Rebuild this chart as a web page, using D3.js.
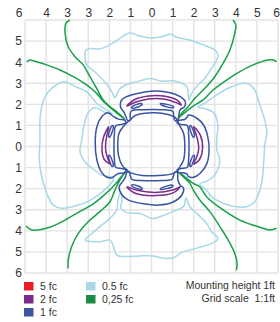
<!DOCTYPE html>
<html>
<head>
<meta charset="utf-8">
<script src="https://cdn.jsdelivr.net/npm/d3@7"></script>
<style>
  body { margin: 0; background: #fff; }
  svg text { font-family: "Liberation Sans", Arial, sans-serif; fill: #333; }
</style>
</head>
<body>
<svg id="chart"></svg>
<script>
// grid positions in feet (fixture at 0,0)
const gridTicks = [-6, -5, -4, -3, -2, -1, 0, 1, 2, 3, 4, 5, 6];
const topLabels = ["6", "4", "3", "3", "2", "1", "0", "1", "2", "3", "4", "5", "6"];
const leftTicks = [-5, -4, -3, -2, -1, 0, 1, 2, 3, 4, 5, 6];
const leftLabels = ["5", "4", "3", "2", "1", "0", "1", "2", "3", "4", "5", "6"];

// 0.5 fc isolines (four lobes)
const halfTop = [[-1.73,-2.30],[-1.88,-2.59],[-2.21,-3.06],[-2.68,-3.53],[-3.06,-3.87],[-3.16,-4.34],[-3.11,-4.58],[-2.92,-4.65],[-2.45,-4.63],[-1.97,-4.82],[-1.50,-5.13],[-1.10,-5.37],[-0.94,-5.37],[-0.55,-5.24],[-0.08,-5.15],[0.40,-5.19],[0.95,-5.32],[1.19,-5.18],[1.82,-5.05],[2.45,-4.82],[3.00,-4.58],[3.16,-4.34],[3.09,-4.10],[2.85,-3.71],[2.53,-3.24],[2.14,-2.84],[1.90,-2.52],[1.77,-2.21],[1.74,-2.50],[1.70,-2.80],[1.45,-3.00],[1.00,-3.12],[0.49,-3.10],[-0.08,-3.22],[-0.60,-3.10],[-1.00,-3.00],[-1.30,-2.88],[-1.52,-2.72],[-1.64,-2.50]];
const halfRight = [[2.20,-1.86],[2.60,-2.10],[3.09,-2.45],[3.72,-2.80],[4.51,-3.00],[4.90,-2.68],[5.06,-2.21],[5.22,-1.73],[5.37,-1.26],[5.47,-0.64],[5.37,-0.07],[5.33,0.64],[5.22,1.75],[4.90,2.62],[4.51,2.86],[4.03,2.86],[3.40,2.69],[2.85,2.38],[2.61,2.06],[2.29,1.78],[2.63,1.64],[3.00,1.35],[3.24,0.64],[3.10,0.17],[3.09,-0.31],[3.15,-1.02],[2.96,-1.59],[2.53,-1.80]];
const halfBottom = [[-1.45,2.16],[-1.59,2.54],[-1.65,3.01],[-1.97,3.41],[-2.45,3.80],[-3.00,4.28],[-3.16,4.44],[-2.45,4.52],[-1.97,4.44],[-1.78,4.82],[-1.65,5.15],[-1.12,5.22],[-0.55,5.19],[0.07,5.19],[0.54,5.29],[1.01,5.29],[1.49,5.00],[2.15,4.82],[3.00,4.53],[3.15,4.34],[2.86,4.06],[2.61,3.64],[2.14,3.17],[1.82,2.86],[1.63,2.44],[1.54,2.82],[1.01,3.09],[0.40,3.33],[0.07,3.42],[-0.55,3.18],[-1.12,3.15],[-1.45,2.92],[-1.40,2.54]];
const halfLeft = [[-1.85,-1.55],[-2.13,-1.73],[-2.60,-2.05],[-3.08,-2.60],[-3.55,-2.81],[-4.18,-3.07],[-4.73,-2.76],[-5.05,-2.36],[-5.21,-1.89],[-5.29,-1.26],[-5.29,-0.31],[-5.32,0.64],[-5.21,1.43],[-4.97,2.22],[-4.66,2.78],[-4.26,2.93],[-3.55,2.80],[-3.00,2.60],[-2.45,2.25],[-2.11,1.95],[-1.88,1.70],[-1.80,1.50],[-2.05,1.42],[-2.35,1.36],[-2.82,1.03],[-3.16,0.72],[-3.39,0.25],[-3.31,-0.31],[-3.20,-1.02],[-3.01,-1.59],[-2.68,-1.85],[-2.21,-1.62]];

// 0.25 fc isolines (open, edge -> fixture -> edge)
const quarterTL = [[-3.88,-6.00],[-4.06,-5.84],[-4.10,-5.37],[-3.95,-4.73],[-3.63,-4.26],[-3.24,-3.87],[-2.92,-3.31],[-2.60,-2.76],[-2.29,-2.21],[-1.97,-1.89],[-1.65,-1.65],[-1.25,-1.30],[-1.60,-1.55],[-1.90,-1.80],[-2.29,-2.15],[-2.60,-2.52],[-3.08,-2.92],[-3.71,-3.31],[-4.34,-3.63],[-4.97,-3.87],[-5.61,-4.07],[-5.76,-4.10],[-5.92,-4.02]];
const quarterTR = [[3.87,-6.00],[4.00,-5.76],[3.95,-5.37],[3.72,-4.58],[3.40,-3.95],[3.00,-3.31],[2.53,-2.76],[2.06,-2.29],[1.74,-1.89],[1.43,-1.58],[1.27,-1.34],[1.43,-1.49],[1.74,-1.73],[2.06,-1.97],[2.45,-2.21],[2.92,-2.68],[3.56,-3.15],[4.19,-3.55],[4.82,-3.87],[5.53,-4.10],[5.77,-4.10],[5.93,-4.02]];
const quarterBL = [[-3.95,5.78],[-3.95,5.38],[-3.79,4.75],[-3.47,4.12],[-3.00,3.57],[-2.45,3.09],[-1.97,2.62],[-1.73,2.06],[-1.50,1.59],[-1.18,1.11],[-1.45,1.45],[-1.73,1.80],[-2.13,2.20],[-2.76,2.72],[-3.39,3.08],[-4.10,3.49],[-4.82,3.83],[-5.68,3.96],[-5.95,3.77]];
const quarterBR = [[4.03,5.86],[4.06,5.54],[3.95,5.07],[3.64,4.44],[3.24,3.80],[2.77,3.09],[2.29,2.54],[1.98,2.06],[1.82,1.75],[1.50,1.43],[1.27,1.20],[1.45,1.33],[1.66,1.50],[1.98,1.75],[2.29,1.91],[2.61,2.38],[3.40,3.01],[4.19,3.49],[5.14,3.83],[5.61,3.96],[5.93,3.88]];

// 1 fc isolines
const oneCenter = [[-1.06,-1.22],[-0.77,-1.47],[-0.30,-1.58],[0.18,-1.60],[0.73,-1.53],[1.12,-1.38],[1.24,-1.20],[1.33,-1.00],[1.52,-0.63],[1.58,0.01],[1.52,0.64],[1.33,0.99],[1.24,1.15],[0.97,1.30],[0.34,1.38],[-0.45,1.37],[-1.01,1.24],[-1.17,1.11],[-1.40,0.88],[-1.57,0.40],[-1.60,-0.07],[-1.54,-0.63],[-1.32,-0.97]];
const oneTop = [[-1.44,-1.81],[-1.48,-1.95],[-1.44,-2.17],[-1.25,-2.33],[-0.77,-2.49],[0.18,-2.63],[0.89,-2.55],[1.36,-2.36],[1.60,-2.13],[1.57,-1.89],[1.36,-1.75],[1.31,-1.57],[1.25,-1.26],[1.12,-1.22],[1.05,-1.41],[1.02,-1.66],[0.60,-1.74],[0.18,-1.76],[-0.45,-1.74],[-0.93,-1.70],[-1.01,-1.57],[-1.01,-1.26],[-1.12,-1.22],[-1.21,-1.41],[-1.32,-1.65]];
const oneBottom = [[-1.38,1.68],[-1.53,1.91],[-1.40,2.30],[-1.09,2.54],[-0.30,2.73],[0.34,2.78],[1.05,2.62],[1.44,2.30],[1.52,1.98],[1.36,1.83],[1.25,1.59],[1.23,1.23],[1.11,1.21],[1.04,1.40],[0.97,1.56],[0.30,1.62],[-0.31,1.62],[-0.93,1.56],[-1.00,1.40],[-1.07,1.21],[-1.17,1.23],[-1.24,1.45]];
const oneLeft = [[-1.80,-1.42],[-2.07,-1.60],[-2.38,-1.39],[-2.59,-0.94],[-2.67,-0.15],[-2.59,0.64],[-2.38,1.20],[-2.11,1.46],[-1.88,1.48],[-1.70,1.36],[-1.57,1.28],[-1.26,1.24],[-1.22,1.12],[-1.41,1.04],[-1.70,0.98],[-1.76,0.60],[-1.78,0.00],[-1.76,-0.60],[-1.70,-0.98],[-1.41,-1.05],[-1.22,-1.12],[-1.26,-1.24],[-1.57,-1.30]];
const oneRight = [[1.68,-1.38],[1.76,-1.49],[2.15,-1.34],[2.47,-1.02],[2.67,-0.46],[2.73,0.17],[2.63,0.80],[2.31,1.27],[2.00,1.46],[1.76,1.43],[1.68,1.30],[1.57,1.26],[1.26,1.22],[1.22,1.10],[1.41,1.04],[1.70,0.98],[1.76,0.60],[1.78,0.00],[1.76,-0.60],[1.70,-1.00],[1.41,-1.04],[1.22,-1.10],[1.26,-1.23],[1.57,-1.28]];
const oneSlivers = [
  [[-0.95,-1.86],[-0.50,-2.04],[-0.44,-1.99],[-0.90,-1.81]],
  [[0.42,-2.04],[1.05,-1.89],[1.02,-1.83],[0.45,-1.99]],
  [[-0.95,1.86],[-0.50,2.04],[-0.44,1.99],[-0.90,1.81]],
  [[0.42,2.04],[1.02,1.89],[0.99,1.83],[0.45,1.99]],
  [[-1.86,-1.00],[-2.04,-0.50],[-1.99,-0.44],[-1.81,-0.95]],
  [[-2.04,0.45],[-1.86,0.95],[-1.81,0.90],[-1.99,0.42]],
  [[1.86,-1.00],[2.04,-0.50],[1.99,-0.44],[1.81,-0.95]],
  [[2.04,0.45],[1.86,0.95],[1.81,0.90],[1.99,0.42]]
];

// 2 fc isolines
const twoTop = [[-1.17,-1.92],[-0.77,-2.24],[-0.14,-2.40],[0.57,-2.40],[1.20,-2.21],[1.41,-1.97],[1.20,-2.07],[0.57,-2.25],[-0.14,-2.25],[-0.77,-2.10]];
const twoBottom = [[-1.17,1.91],[-0.77,2.22],[0.18,2.33],[1.05,2.19],[1.36,1.91],[1.05,2.05],[0.18,2.18],[-0.69,2.08]];
const twoLeft = [[-2.03,-0.94],[-2.27,-0.46],[-2.35,0.17],[-2.22,0.64],[-1.96,0.82],[-2.08,0.56],[-2.18,0.09],[-2.13,-0.46]];
const twoRight = [[2.00,-0.94],[2.31,-0.55],[2.42,0.09],[2.26,0.64],[2.00,0.83],[2.12,0.56],[2.24,0.09],[2.15,-0.46]];

const legendLabels = ["5 fc", "2 fc", "1 fc", "0.5 fc", "0,25 fc"];
const legendColors = ["#ec1c27", "#7b2b8c", "#3a53a3", "#a7d8e8", "#1d8b45"];

const width = 280, height = 322;
const plotLeft = 25, plotTop = 20, plotRight = 278, plotBottom = 273;

const svg = d3.select("#chart")
  .attr("width", width)
  .attr("height", height);

const x = d3.scaleLinear().domain([-6, 6]).range([plotLeft, plotRight]);
const y = d3.scaleLinear().domain([-6, 6]).range([plotTop, plotBottom]);

// grid
svg.append("g")
  .selectAll("line")
  .data(gridTicks)
  .enter()
  .append("line")
  .attr("x1", d => x(d)).attr("x2", d => x(d))
  .attr("y1", plotTop).attr("y2", plotBottom)
  .attr("stroke", "#e3e3e3")
  .attr("stroke-width", 1.4);

svg.append("g")
  .selectAll("line")
  .data(gridTicks)
  .enter()
  .append("line")
  .attr("y1", d => y(d)).attr("y2", d => y(d))
  .attr("x1", plotLeft).attr("x2", plotRight)
  .attr("stroke", "#e3e3e3")
  .attr("stroke-width", 1.4);

// axes
const xAxis = svg.append("g")
  .attr("transform", `translate(0,${plotTop})`)
  .call(d3.axisTop(x).tickValues(gridTicks).tickSize(0).tickPadding(3)
    .tickFormat((d, i) => topLabels[i]));

const yAxis = svg.append("g")
  .attr("transform", `translate(${plotLeft},0)`)
  .call(d3.axisLeft(y).tickValues(leftTicks).tickSize(0).tickPadding(3)
    .tickFormat((d, i) => leftLabels[i]));

[xAxis, yAxis].forEach(a => {
  a.select(".domain").remove();
  a.selectAll("text")
    .attr("font-family", "Liberation Sans, Arial, sans-serif")
    .attr("font-size", 12)
    .attr("fill", "#333");
});

// the corner label sits left of the first grid line, the last one keeps inside the page
xAxis.selectAll(".tick text")
  .filter((d, i) => i === 0)
  .attr("text-anchor", "end")
  .attr("x", -3);

xAxis.selectAll(".tick text")
  .filter((d, i) => i === gridTicks.length - 1)
  .attr("text-anchor", "end")
  .attr("x", 1.5);

// isolines
const closedLine = d3.line()
  .x(d => x(d[0]))
  .y(d => y(d[1]))
  .curve(d3.curveCatmullRomClosed.alpha(0.5));

const openLine = d3.line()
  .x(d => x(d[0]))
  .y(d => y(d[1]))
  .curve(d3.curveCatmullRom.alpha(0.5));

const layers = [
  { color: "#a7d8e8", width: 1.5, closed: true, shapes: [halfTop, halfRight, halfBottom, halfLeft] },
  { color: "#19a04b", width: 1.5, closed: false, shapes: [quarterTL, quarterTR, quarterBL, quarterBR] },
  { color: "#3a53a3", width: 1.5, closed: true, shapes: [oneCenter, oneTop, oneBottom, oneLeft, oneRight].concat(oneSlivers) },
  { color: "#7b2b8c", width: 1.5, closed: true, shapes: [twoTop, twoBottom, twoLeft, twoRight] }
];

layers.forEach(layer => {
  svg.append("g")
    .selectAll("path")
    .data(layer.shapes)
    .enter()
    .append("path")
    .attr("d", layer.closed ? closedLine : openLine)
    .attr("fill", "none")
    .attr("stroke", layer.color)
    .attr("stroke-width", layer.width)
    .attr("stroke-linejoin", "round");
});

// legend
const legend = svg.append("g");
const items = legend.selectAll("g")
  .data(legendLabels)
  .enter()
  .append("g")
  .attr("transform", (d, i) => `translate(${i < 3 ? 24 : 86},${282 + (i % 3) * 13})`);

items.append("rect")
  .attr("width", 9.5)
  .attr("height", 8.5)
  .attr("fill", (d, i) => legendColors[i]);

items.append("text")
  .attr("x", 16)
  .attr("y", 8)
  .attr("font-size", 10.5)
  .text(d => d);

svg.append("text")
  .attr("x", 275).attr("y", 289)
  .attr("text-anchor", "end")
  .attr("font-size", 10.5)
  .text("Mounting height 1ft");

svg.append("text")
  .attr("x", 275).attr("y", 302)
  .attr("text-anchor", "end")
  .attr("font-size", 10.5)
  .style("white-space", "pre")
  .text("Grid scale  1:1ft");
</script>
</body>
</html>
